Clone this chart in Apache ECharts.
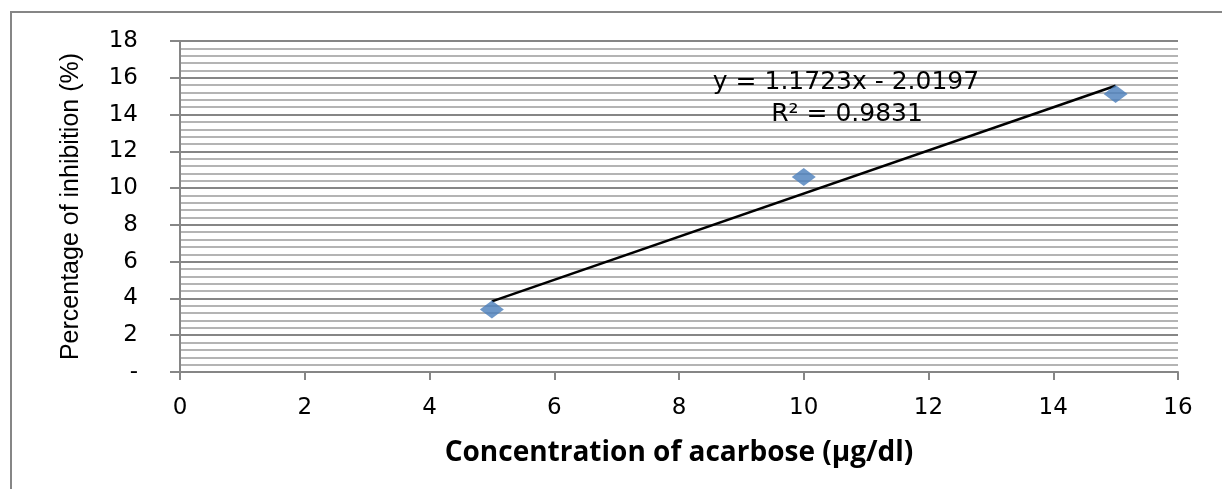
<!DOCTYPE html>
<html><head><meta charset="utf-8">
<script src="https://cdn.jsdelivr.net/npm/echarts@6/dist/echarts.min.js"></script>
<style>html,body{margin:0;padding:0;background:#fff}#c{width:1222px;height:489px}</style>
</head><body><div id="c"></div>
<script>
const concentration = [5, 10, 15];
const inhibition = [3.4, 10.6, 15.12];
const trendSlope = 1.1723;
const trendIntercept = -2.0197;
const equationText = 'y = 1.1723x - 2.0197';
const r2Text = 'R\u00b2 = 0.9831';
const xTitle = 'Concentration of acarbose (\u00b5g/dl)';
const yTitle = 'Percentage of inhibition (%)';

const points = concentration.map((x, i) => [x, inhibition[i]]);
const xStart = concentration[0], xEnd = concentration[concentration.length - 1];
const trend = [[xStart, trendSlope * xStart + trendIntercept], [xEnd, trendSlope * xEnd + trendIntercept]];

const chart = echarts.init(document.getElementById('c'), null, {renderer: 'canvas'});
chart.setOption({
  animation: false,
  grid: {left: 180, top: 41, right: 44, bottom: 117},
  graphic: [
    {type: 'rect', shape: {x: 11, y: 12, width: 1300, height: 600}, style: {fill: 'none', stroke: '#868686', lineWidth: 2}, z: -1},
    {type: 'text', x: 846, y: 82, style: {text: equationText, fontFamily: 'DejaVu Sans', fontSize: 25, fill: '#000', align: 'center', verticalAlign: 'middle'}, z: 10},
    {type: 'text', x: 847, y: 114, style: {text: r2Text, fontFamily: 'DejaVu Sans', fontSize: 25, fill: '#000', align: 'center', verticalAlign: 'middle'}, z: 10}
  ],
  xAxis: {
    type: 'value', min: 0, max: 16, interval: 2,
    name: xTitle, nameLocation: 'middle', nameGap: 67,
    nameTextStyle: {fontFamily: 'Open Sans', fontWeight: 'bold', fontSize: 28, color: '#000'},
    axisLine: {show: true, lineStyle: {color: '#868686', width: 2}},
    axisTick: {show: true, inside: false, length: 8, lineStyle: {color: '#868686', width: 2}},
    axisLabel: {margin: 25, fontFamily: 'DejaVu Sans', fontSize: 23, color: '#000'},
    splitLine: {show: false}
  },
  yAxis: {
    type: 'value', min: 0, max: 18, interval: 2,
    name: yTitle, nameLocation: 'middle', nameGap: 96, nameRotate: 90,
    nameTextStyle: {fontFamily: '"Liberation Sans", Arial, sans-serif', fontSize: 25, color: '#000'},
    axisLine: {show: true, lineStyle: {color: '#868686', width: 2}},
    axisTick: {show: true, inside: false, length: 10, lineStyle: {color: '#868686', width: 2}},
    axisLabel: {margin: 42, fontFamily: 'DejaVu Sans', fontSize: 23, color: '#000', formatter: v => v === 0 ? '-' : String(v)},
    splitLine: {show: true, lineStyle: {color: '#868686', width: 2}},
    minorTick: {show: false, splitNumber: 5},
    minorSplitLine: {show: true, lineStyle: {color: '#b4b4b4', width: 2}}
  },
  series: [
    {type: 'line', data: trend, symbol: 'none', lineStyle: {color: '#000', width: 2.5}, z: 3},
    {type: 'scatter', data: points, symbol: 'diamond', symbolSize: [24, 18], itemStyle: {color: '#4a7ebb'}, z: 4}
  ]
});
</script></body></html>
